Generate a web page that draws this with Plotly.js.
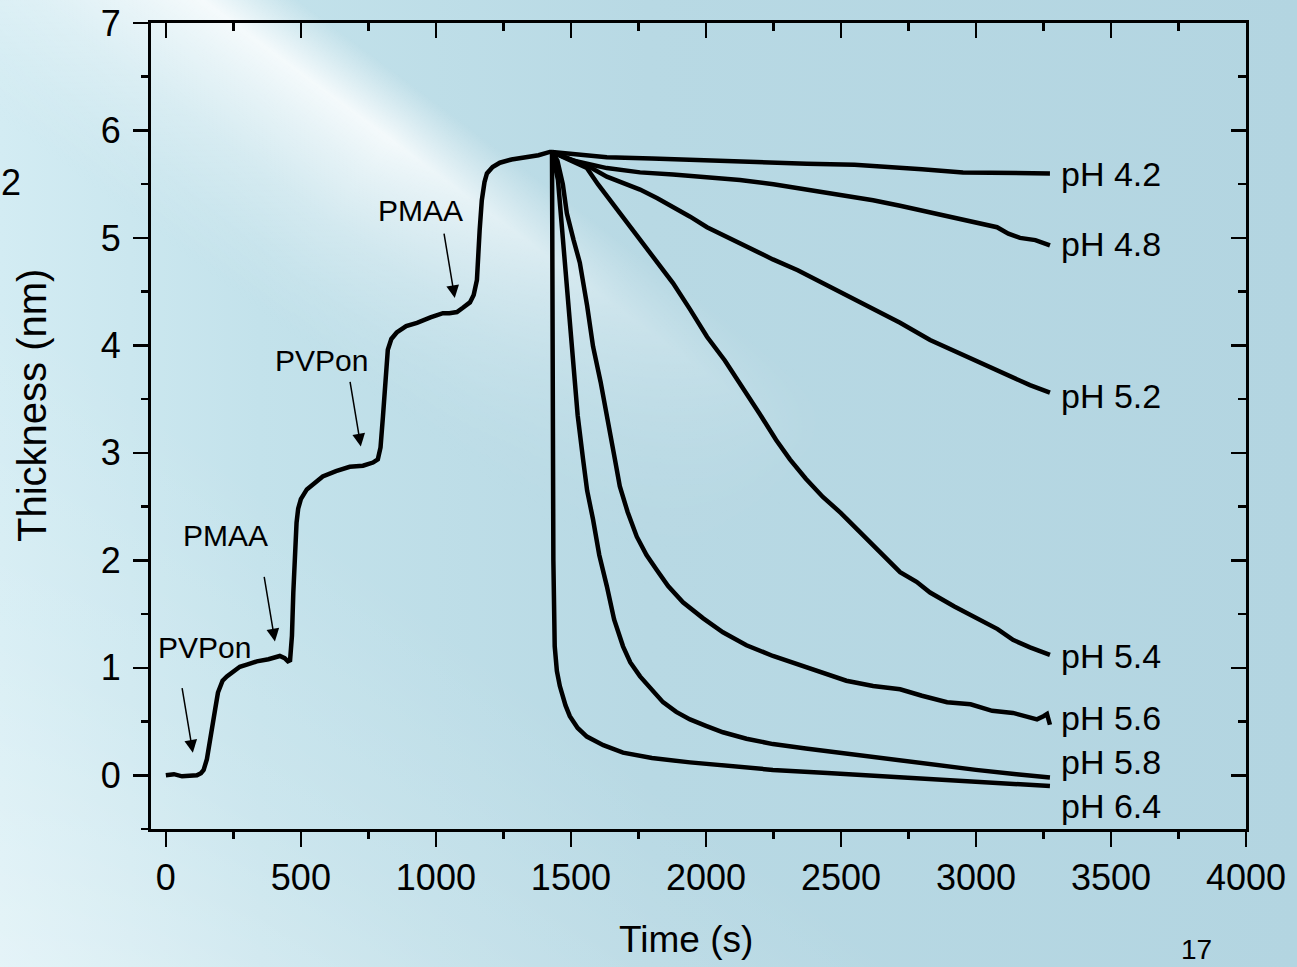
<!DOCTYPE html>
<html>
<head>
<meta charset="utf-8">
<script src="https://cdn.plot.ly/plotly-3.0.1.min.js"></script>
<style>
html,body{margin:0;padding:0;width:1297px;height:967px;overflow:hidden;}
body{
  position:relative;
  background:
    linear-gradient(37deg, rgba(255,255,255,0.40) 0%, rgba(255,255,255,0.15) 18%, rgba(255,255,255,0) 35%, rgba(255,255,255,0) 100%),
    linear-gradient(to right, #d3ecf3 0%, #c3e2eb 20%, #b8d9e4 50%, #b3d5e1 100%);
}
#glow{
  position:absolute; left:-254px; top:32px; width:1400px; height:440px;
  transform:rotate(36.6deg);
  background:linear-gradient(to bottom, rgba(255,255,255,0) 0%, rgba(255,255,255,0) 24%, rgba(255,255,255,0.5) 32%, rgba(255,255,255,0.82) 37%, rgba(255,255,255,0.6) 46%, rgba(255,255,255,0.3) 60%, rgba(255,255,255,0.1) 74%, rgba(255,255,255,0) 86%);
  -webkit-mask-image:linear-gradient(to right, rgba(0,0,0,0.75) 0%, #000 20%, #000 42%, rgba(0,0,0,0.35) 62%, rgba(0,0,0,0) 80%);
  mask-image:linear-gradient(to right, rgba(0,0,0,0.75) 0%, #000 20%, #000 42%, rgba(0,0,0,0.35) 62%, rgba(0,0,0,0) 80%);
}
#chart{position:absolute; left:0; top:0; width:1297px;height:967px;}
</style>
</head>
<body>
<div id="glow"></div>
<div id="chart"></div>
<script>
// ---- Data ----
const depTime = [0,30,60,90,115,130,140,152,163,174,183,193,210,226,250,274,300,337,380,422,440,452,460,467,472,478,484,490,500,522,550,581,630,681,730,767,785,795,804,812,822,835,855,890,930,980,1026,1050,1078,1100,1126,1140,1152,1162,1170,1180,1189,1210,1237,1280,1337,1380,1422,1430];
const depThick = [0,0.01,-0.01,0,0,0.02,0.05,0.15,0.3,0.46,0.62,0.77,0.88,0.92,0.97,1.01,1.03,1.06,1.08,1.11,1.09,1.06,1.07,1.3,1.7,2.1,2.35,2.48,2.57,2.66,2.72,2.78,2.83,2.87,2.88,2.91,2.94,3.05,3.34,3.65,3.96,4.06,4.12,4.18,4.21,4.26,4.30,4.30,4.31,4.35,4.40,4.47,4.61,5.07,5.35,5.52,5.60,5.66,5.70,5.73,5.75,5.77,5.80,5.80];

const t42 = [1430,1500,1633,1800,2004,2200,2374,2550,2719,2800,2952,3100,3274];
const y42 = [5.80,5.78,5.75,5.74,5.72,5.71,5.69,5.68,5.66,5.64,5.61,5.61,5.60];

const t48 = [1430,1507,1633,1756,1878,2000,2126,2250,2374,2500,2619,2719,2830,2900,2978,3078,3120,3163,3220,3274];
const y48 = [5.80,5.72,5.65,5.61,5.59,5.57,5.54,5.50,5.45,5.40,5.35,5.30,5.24,5.20,5.15,5.10,5.04,5.00,4.98,4.93];

const t52 = [1430,1480,1507,1570,1633,1700,1756,1820,1878,1940,2004,2126,2248,2340,2433,2530,2619,2719,2830,2920,3015,3137,3200,3274];
const y52 = [5.80,5.75,5.72,5.66,5.57,5.50,5.45,5.37,5.29,5.20,5.10,4.95,4.80,4.70,4.58,4.45,4.33,4.21,4.05,3.95,3.84,3.71,3.63,3.56];

const t54 = [1430,1480,1520,1559,1600,1633,1700,1756,1820,1878,1940,2004,2070,2126,2200,2260,2311,2370,2433,2500,2559,2644,2719,2780,2830,2920,3015,3080,3137,3200,3274];
const y54 = [5.80,5.74,5.70,5.65,5.50,5.39,5.17,4.98,4.78,4.58,4.34,4.08,3.86,3.65,3.36,3.12,2.94,2.76,2.59,2.44,2.29,2.07,1.89,1.80,1.70,1.57,1.45,1.36,1.26,1.19,1.12];

const t56 = [1430,1450,1470,1485,1510,1533,1560,1582,1610,1633,1663,1681,1710,1744,1780,1818,1860,1915,1990,2063,2150,2248,2340,2433,2520,2619,2719,2800,2893,2980,3060,3137,3190,3226,3250,3263,3274];
const y56 = [5.80,5.72,5.50,5.23,4.98,4.77,4.37,3.99,3.66,3.37,2.94,2.69,2.45,2.22,2.05,1.91,1.76,1.61,1.46,1.33,1.21,1.11,1.03,0.96,0.88,0.83,0.80,0.74,0.68,0.66,0.60,0.58,0.55,0.52,0.55,0.57,0.47];

const t58 = [1430,1445,1452,1465,1478,1492,1507,1525,1545,1560,1582,1605,1633,1660,1693,1720,1756,1800,1841,1890,1941,2000,2063,2150,2248,2370,2496,2600,2719,2850,3000,3150,3274];
const y58 = [5.80,5.65,5.54,5.15,4.77,4.30,3.84,3.35,2.94,2.65,2.38,2.05,1.76,1.45,1.20,1.05,0.92,0.79,0.68,0.59,0.52,0.46,0.40,0.34,0.29,0.25,0.21,0.17,0.13,0.09,0.05,0.01,-0.02];

const t64 = [1430,1432,1435,1440,1448,1459,1470,1480,1496,1525,1559,1620,1693,1800,1941,2100,2248,2450,2719,2850,3000,3150,3274];
const y64 = [5.80,4.0,2.0,1.2,0.97,0.83,0.72,0.65,0.55,0.44,0.36,0.28,0.21,0.16,0.12,0.08,0.05,0.02,-0.02,-0.04,-0.06,-0.08,-0.10];

const phLabels = ["pH 4.2","pH 4.8","pH 5.2","pH 5.4","pH 5.6","pH 5.8","pH 6.4"];
const stepLabels = ["PVPon","PMAA","PVPon","PMAA"];
const stepTimes = [100,404,722,1070];
const stepThick = [0.21,1.245,3.06,4.44];

const xTickVals = [0,500,1000,1500,2000,2500,3000,3500,4000];
const yTickVals = [0,1,2,3,4,5,6,7];

// ---- Figure ----
const FONT = "Liberation Sans, Arial, sans-serif";
const lineStyle = {color:"#000", width:4.5};
const decay = [[t42,y42],[t48,y48],[t52,y52],[t54,y54],[t56,y56],[t58,y58],[t64,y64]];

const traces = [{x:depTime, y:depThick, mode:"lines", line:lineStyle, name:"deposition"}];
decay.forEach((d,i)=>traces.push({x:d[0], y:d[1], mode:"lines", line:lineStyle, name:phLabels[i]}));

const annotations = [];
// pH labels anchored at the end of each curve
const labelYShift = [-1,1,-3,-1,7,15,-20];
decay.forEach((d,i)=>{
  annotations.push({x:d[0][d[0].length-1], y:d[1][d[1].length-1], xref:"x", yref:"y",
    text:phLabels[i], showarrow:false, xanchor:"left", yanchor:"middle", xshift:9, yshift:labelYShift[i],
    font:{family:FONT, size:34, color:"#000"}});
});
// step arrows and their labels (label placed above the arrow tail)
const labelDX = [12,-49,-39,-34];
const labelDY = [105,106,86,88];
stepLabels.forEach((s,i)=>{
  annotations.push({x:stepTimes[i], y:stepThick[i], xref:"x", yref:"y", text:"", showarrow:true,
    arrowhead:2, arrowsize:1.7, arrowwidth:1.5, arrowcolor:"#000", ax:-11, ay:-66, standoff:0});
  annotations.push({x:stepTimes[i], y:stepThick[i], xref:"x", yref:"y", text:s, showarrow:false,
    xanchor:"center", yanchor:"middle", xshift:labelDX[i], yshift:labelDY[i],
    font:{family:FONT, size:30, color:"#000"}});
});
// axis titles
annotations.push({xref:"paper", yref:"paper", x:0.4886, y:-0.1377, text:"Time (s)", showarrow:false,
  xanchor:"center", yanchor:"middle", font:{family:FONT, size:37, color:"#000"}});
annotations.push({xref:"paper", yref:"paper", x:-0.1087, y:0.526, text:"Thickness (nm)", showarrow:false,
  textangle:-90, xanchor:"center", yanchor:"middle", font:{family:FONT, size:40, color:"#000"}});
// slide remnants (page number fragments)
annotations.push({xref:"paper", yref:"paper", x:-0.128, y:0.8015, text:"2", showarrow:false,
  xanchor:"center", yanchor:"middle", font:{family:FONT, size:36, color:"#000"}});
annotations.push({xref:"paper", yref:"paper", x:0.955, y:-0.150, text:"17", showarrow:false,
  xanchor:"center", yanchor:"middle", font:{family:FONT, size:28, color:"#000"}});

const axCommon = {showgrid:false, zeroline:false, showline:true, linecolor:"#000", linewidth:3,
  tickcolor:"#000", tickwidth:2.5, ticklen:15, tickfont:{family:FONT, color:"#000"}};

const layout = {
  width:1297, height:967,
  margin:{l:151, r:51, t:23, b:138},
  paper_bgcolor:"rgba(0,0,0,0)", plot_bgcolor:"rgba(0,0,0,0)",
  showlegend:false,
  font:{family:FONT, color:"#000"},
  xaxis: Object.assign({}, axCommon, {range:[-55,4000], tickmode:"array", tickvals:xTickVals,
    ticks:"outside", tickfont:{family:FONT, size:36, color:"#000"}, title:{text:""},
    minor:{ticks:"outside", ticklen:7, tickwidth:2.5, tickcolor:"#000", dtick:250, showgrid:false}}),
  yaxis: Object.assign({}, axCommon, {range:[-0.5,7], tickmode:"array", tickvals:yTickVals,
    ticks:"outside", ticklabelstandoff:5, tickfont:{family:FONT, size:36, color:"#000"}, title:{text:""},
    minor:{ticks:"outside", ticklen:7, tickwidth:2.5, tickcolor:"#000", dtick:0.5, showgrid:false}}),
  xaxis2: Object.assign({}, axCommon, {range:[-55,4000], overlaying:"x", side:"top", anchor:"y",
    tickmode:"array", tickvals:xTickVals, ticks:"inside", showticklabels:false,
    minor:{ticks:"inside", ticklen:8, tickwidth:2.5, tickcolor:"#000", dtick:250, showgrid:false}}),
  yaxis2: Object.assign({}, axCommon, {range:[-0.5,7], overlaying:"y", side:"right", anchor:"x",
    tickmode:"array", tickvals:yTickVals, ticks:"inside", showticklabels:false,
    minor:{ticks:"inside", ticklen:8, tickwidth:2.5, tickcolor:"#000", dtick:0.5, showgrid:false}}),
  annotations: annotations
};
traces.push({x:[], y:[], xaxis:"x2", yaxis:"y2", mode:"lines", hoverinfo:"skip", showlegend:false});

Plotly.newPlot("chart", traces, layout, {displayModeBar:false, staticPlot:true});
</script>
</body>
</html>
